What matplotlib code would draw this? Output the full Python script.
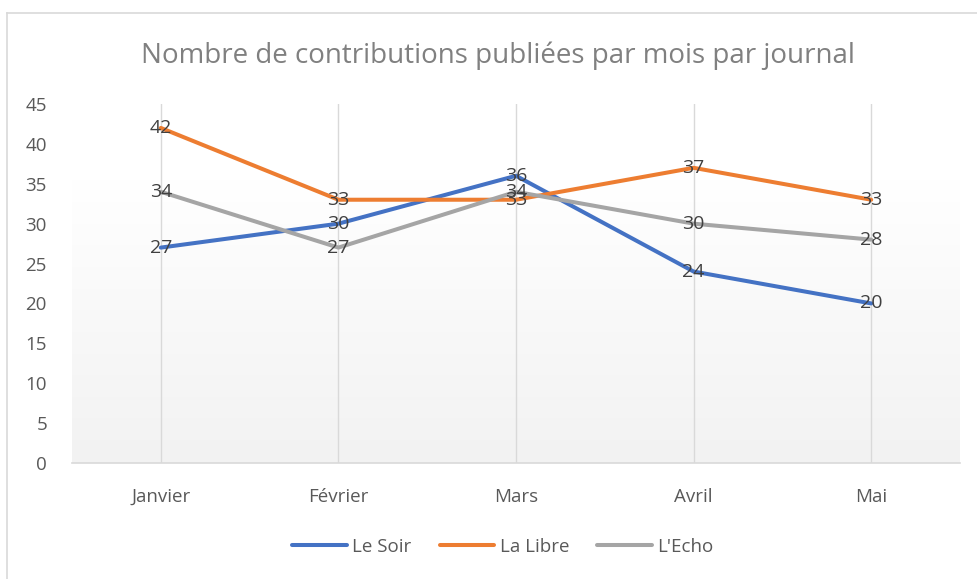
import numpy as np
import matplotlib
matplotlib.use("Agg")
import matplotlib.pyplot as plt
from matplotlib.lines import Line2D

plt.rcParams['font.family'] = ['Open Sans', 'DejaVu Sans']

# données
mois = ['Janvier', 'Février', 'Mars', 'Avril', 'Mai']
le_soir = [27, 30, 36, 24, 20]
la_libre = [42, 33, 33, 37, 33]
l_echo = [34, 27, 34, 30, 28]
series = ['Le Soir', 'La Libre', "L'Echo"]
couleurs = ['#4472C4', '#ED7D31', '#A5A5A5']

W, H = 978, 579
fig = plt.figure(figsize=(W / 100, H / 100), dpi=100)

# cadre du graphique (seulement haut et gauche visibles)
fig.add_artist(Line2D([7 / W, 1], [1 - 13 / H, 1 - 13 / H], color='#d9d9d9', lw=1.2))
fig.add_artist(Line2D([7 / W, 7 / W], [0, 1 - 13 / H], color='#d9d9d9', lw=1.2))

ax = fig.add_axes([72 / W, (H - 463) / H, (960 - 72) / W, (463 - 104) / H])
x = np.arange(len(mois))
ax.set_xlim(-0.5, len(mois) - 0.5)
ax.set_ylim(0, 45)

# fond dégradé de la zone de traçage
grad = np.linspace(0, 1, 256).reshape(-1, 1)
grad = np.clip(grad / 0.79, 0, 1)  # blanc au-dessus de ~35
cmap = matplotlib.colors.LinearSegmentedColormap.from_list('g', ['#f2f2f2', '#ffffff'])
ax.imshow(grad, extent=[-0.5, len(mois) - 0.5, 0, 45], origin='lower',
          aspect='auto', cmap=cmap, zorder=0)

for xi in x:
    ax.axvline(xi, color='#d9d9d9', lw=1, zorder=1)

for vals, nom, c in zip([le_soir, la_libre, l_echo], series, couleurs):
    ax.plot(x, vals, color=c, lw=2.9, label=nom, zorder=3, solid_capstyle='round')
    for xi, v in zip(x, vals):
        ax.text(xi, v, str(v), ha='center', va='center', fontsize=14,
                color='#404040', zorder=4)

ax.set_yticks(range(0, 46, 5))
ax.set_xticks(x)
ax.set_xticklabels(mois)
ax.tick_params(axis='both', length=0, labelsize=13.5, colors='#595959')
ax.tick_params(axis='y', pad=18)
ax.tick_params(axis='x', pad=18)
for s in ['top', 'right', 'left']:
    ax.spines[s].set_visible(False)
ax.spines['bottom'].set_color('#d9d9d9')
ax.spines['bottom'].set_linewidth(1.2)

fig.text(498 / W, 1 - 56 / H, 'Nombre de contributions publiées par mois par journal',
         ha='center', va='center', fontsize=20, color='#808080')

leg = fig.legend(loc='center', bbox_to_anchor=(503 / W, 1 - 547 / H), ncol=3,
                 frameon=False, fontsize=13.5, handlelength=2.9, handletextpad=0.3,
                 columnspacing=1.5)
for t in leg.get_texts():
    t.set_color('#595959')

fig.savefig('out.png', dpi=100, facecolor='white')
